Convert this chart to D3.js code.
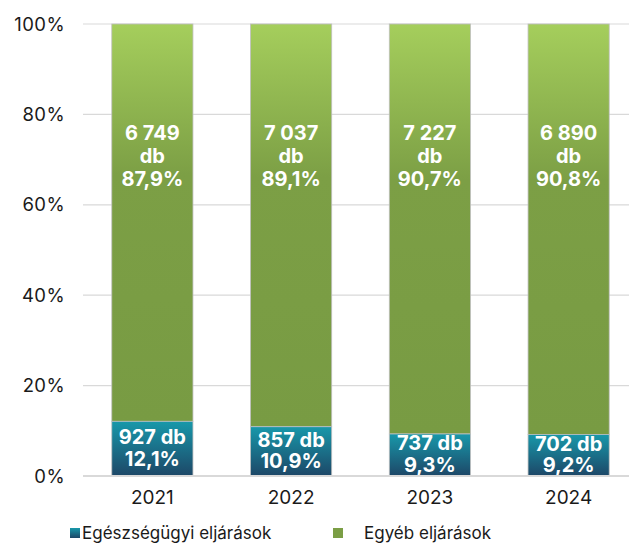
<!DOCTYPE html>
<html>
<head>
<meta charset="utf-8">
<script src="https://cdn.jsdelivr.net/npm/d3@7"></script>
<style>
  body { margin: 0; background: #fff; }
  text { font-family: Inter, "Noto Sans", sans-serif; }
</style>
</head>
<body>
<div id="chart-area"></div>
<script>
// data
var years = ["2021", "2022", "2023", "2024"];
var healthCount = [927, 857, 737, 702];
var healthPct = [12.1, 10.9, 9.3, 9.2];
var otherCount = [6749, 7037, 7227, 6890];
var otherPct = [87.9, 89.1, 90.7, 90.8];
var yTicks = [0, 20, 40, 60, 80, 100];
var seriesNames = ["Egészségügyi eljárások", "Egyéb eljárások"];

var W = 629, H = 548;
var margin = { left: 83, top: 24, bottom: 72 };

var svg = d3.select("#chart-area").append("svg")
    .attr("width", W).attr("height", H);

var defs = svg.append("defs");
var gGreen = defs.append("linearGradient").attr("id", "gGreen")
    .attr("x1", 0).attr("y1", 0).attr("x2", 0).attr("y2", 1);
gGreen.append("stop").attr("offset", "0%").attr("stop-color", "#a5ce5c");
gGreen.append("stop").attr("offset", "38%").attr("stop-color", "#7c9f45");
gGreen.append("stop").attr("offset", "100%").attr("stop-color", "#789b43");

var gTeal = defs.append("linearGradient").attr("id", "gTeal")
    .attr("x1", 0).attr("y1", 0).attr("x2", 0).attr("y2", 1);
gTeal.append("stop").attr("offset", "0%").attr("stop-color", "#1898aa");
gTeal.append("stop").attr("offset", "100%").attr("stop-color", "#1d4767");

var x = d3.scaleBand().domain(years).range([margin.left, 638]).paddingInner(0.415).paddingOuter(0.2075);
var y = d3.scaleLinear().domain([0, 100]).range([H - margin.bottom, margin.top]);

// gridlines
svg.append("g").selectAll("line").data(yTicks.filter(function(d){ return d > 0; }))
  .enter().append("line")
    .attr("x1", margin.left).attr("x2", W)
    .attr("y1", function(d){ return y(d); }).attr("y2", function(d){ return y(d); })
    .attr("stroke", "#d9d9d9").attr("stroke-width", 1.2);

// y tick labels
svg.append("g").selectAll("text").data(yTicks).enter().append("text")
    .attr("x", 65).attr("y", function(d){ return y(d); })
    .attr("dy", "0.36em")
    .attr("text-anchor", "end")
    .attr("font-size", "18.5px").attr("letter-spacing", "0.4px").attr("fill", "#1a1a1a")
    .text(function(d){ return d + "%"; });

var rows = years.map(function(yr, i){
    return { year: yr, hc: healthCount[i], hp: healthPct[i], oc: otherCount[i], op: otherPct[i] };
});

var fmt = function(n){ return d3.format(",")(n).replace(",", " "); };
var pct = function(p){ return p.toFixed(1).replace(".", ",") + "%"; };

var bars = svg.append("g").selectAll("g").data(rows).enter().append("g");

bars.append("rect")
    .attr("x", function(d){ return x(d.year); })
    .attr("width", x.bandwidth())
    .attr("y", function(d){ return y(d.hp + d.op); })
    .attr("height", function(d){ return y(d.hp) - y(d.hp + d.op); })
    .attr("fill", "url(#gGreen)")
    .attr("stroke", "#bfbfbf").attr("stroke-width", 0.8);

bars.append("rect")
    .attr("x", function(d){ return x(d.year); })
    .attr("width", x.bandwidth())
    .attr("y", function(d){ return y(d.hp); })
    .attr("height", function(d){ return y(0) - y(d.hp); })
    .attr("fill", "url(#gTeal)")
    .attr("stroke", "#bfbfbf").attr("stroke-width", 0.8);

// labels in the bars
bars.each(function(d){
    var g = d3.select(this);
    var cx = x(d.year) + x.bandwidth() / 2;
    var lines = [fmt(d.oc), "db", pct(d.op)];
    lines.forEach(function(t, k){
        g.append("text")
            .attr("x", cx).attr("y", 156 + (k - 1) * 23)
            .attr("dy", "0.36em")
            .attr("text-anchor", "middle")
            .attr("font-size", "20px").attr("font-weight", "bold")
            .attr("fill", "#fff").text(t);
    });
    var mid = (y(d.hp) + y(0)) / 2 - 1;
    [fmt(d.hc) + " db", pct(d.hp)].forEach(function(t, k){
        g.append("text")
            .attr("x", cx).attr("y", mid + (k - 0.5) * 21.5)
            .attr("dy", "0.36em")
            .attr("text-anchor", "middle")
            .attr("font-size", "20px").attr("font-weight", "bold")
            .attr("fill", "#fff").text(t);
    });
});

// baseline
svg.append("line")
    .attr("x1", margin.left).attr("x2", W)
    .attr("y1", y(0)).attr("y2", y(0))
    .attr("stroke", "#d9d9d9").attr("stroke-width", 2);

// x labels
svg.append("g").selectAll("text").data(years).enter().append("text")
    .attr("x", function(d){ return x(d) + x.bandwidth() / 2; })
    .attr("y", 497).attr("dy", "0.36em")
    .attr("text-anchor", "middle")
    .attr("font-size", "19px").attr("fill", "#1a1a1a")
    .text(function(d){ return d; });

// legend
var legend = svg.append("g");
legend.append("rect").attr("x", 70).attr("y", 528).attr("width", 10).attr("height", 10)
    .attr("fill", "url(#gTeal)");
legend.append("text").attr("x", 82).attr("y", 533).attr("dy", "0.36em")
    .attr("font-size", "17px").attr("fill", "#1a1a1a").text(seriesNames[0]);
legend.append("rect").attr("x", 333).attr("y", 528).attr("width", 10).attr("height", 10)
    .attr("fill", "#7b9e45");
legend.append("text").attr("x", 364).attr("y", 533).attr("dy", "0.36em")
    .attr("font-size", "17px").attr("fill", "#1a1a1a").text(seriesNames[1]);
</script>
</body>
</html>
